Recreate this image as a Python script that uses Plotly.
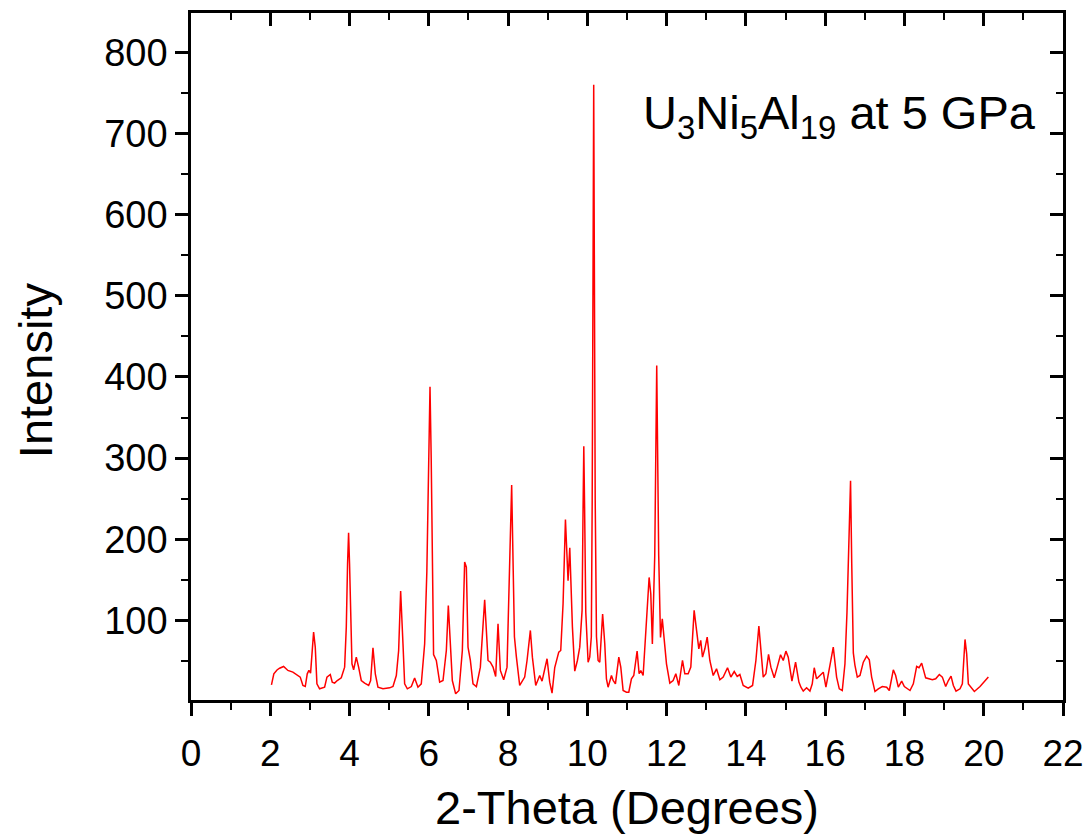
import plotly.graph_objects as go

two_theta = [
    2.03, 2.09, 2.17, 2.235, 2.336, 2.445, 2.571, 2.698, 2.756, 2.824, 2.883, 2.933, 2.975, 3.017, 3.05,
    3.093, 3.135, 3.177, 3.244, 3.371, 3.43, 3.514, 3.564, 3.623, 3.69, 3.791, 3.876, 3.918, 3.95, 3.976,
    4.0, 4.027, 4.061, 4.103, 4.17, 4.229, 4.296, 4.381, 4.482, 4.532, 4.591, 4.65, 4.717, 4.843, 5.012,
    5.096, 5.18, 5.239, 5.289, 5.348, 5.39, 5.458, 5.559, 5.642, 5.726, 5.81, 5.895, 5.95, 6.0, 6.03,
    6.06, 6.09, 6.12, 6.189, 6.273, 6.358, 6.442, 6.492, 6.543, 6.593, 6.677, 6.761, 6.846, 6.904, 6.947,
    6.989, 7.048, 7.115, 7.2, 7.3, 7.409, 7.494, 7.552, 7.62, 7.687, 7.746, 7.805, 7.889, 7.973, 8.03,
    8.09, 8.13, 8.16, 8.21, 8.293, 8.419, 8.478, 8.562, 8.613, 8.697, 8.798, 8.857, 8.924, 8.983, 9.05,
    9.109, 9.177, 9.219, 9.278, 9.328, 9.387, 9.447, 9.513, 9.556, 9.623, 9.682, 9.749, 9.808, 9.867, 9.89,
    9.91, 9.93, 9.96, 10.019, 10.06, 10.10, 10.122, 10.16, 10.198, 10.23, 10.271, 10.313, 10.355, 10.385, 10.439,
    10.481, 10.523, 10.608, 10.65, 10.708, 10.793, 10.843, 10.902, 10.986, 11.045, 11.112, 11.171, 11.255, 11.306, 11.348,
    11.407, 11.466, 11.558, 11.6, 11.64, 11.70, 11.75, 11.80, 11.845, 11.89, 11.937, 11.996, 12.08, 12.164, 12.232,
    12.307, 12.4, 12.459, 12.543, 12.61, 12.694, 12.753, 12.812, 12.86, 12.905, 12.964, 13.023, 13.09, 13.175, 13.259,
    13.343, 13.427, 13.536, 13.62, 13.705, 13.78, 13.848, 13.932, 14.058, 14.168, 14.252, 14.327, 14.378, 14.437, 14.504,
    14.571, 14.63, 14.714, 14.79, 14.874, 14.942, 15.009, 15.068, 15.161, 15.253, 15.337, 15.388, 15.447, 15.531, 15.615,
    15.674, 15.724, 15.783, 15.867, 15.952, 16.019, 16.12, 16.204, 16.288, 16.356, 16.431, 16.499, 16.55, 16.60, 16.64,
    16.67, 16.71, 16.75, 16.81, 16.878, 16.962, 17.046, 17.113, 17.172, 17.256, 17.34, 17.441, 17.551, 17.618, 17.719,
    17.778, 17.845, 17.93, 17.997, 18.14, 18.224, 18.308, 18.367, 18.434, 18.535, 18.603, 18.704, 18.788, 18.88, 18.956,
    19.04, 19.108, 19.175, 19.234, 19.301, 19.402, 19.461, 19.528, 19.57, 19.612, 19.764, 19.907, 20.033, 20.1, 20.117,
]

intensity = [
    20.7, 34.3, 39, 41.2, 43.3, 38.4, 36.3, 32.2, 30.2, 19.9, 18.6, 34.3, 38.4, 35.1, 55,
    85.6, 67.1, 21.9, 15.8, 17.8, 30.2, 33.4, 24, 22.8, 26, 29.3, 42.5, 92, 170, 208,
    170, 92, 46.6, 39.2, 54.8, 42.5, 26, 22.8, 19.9, 26, 66.3, 34.3, 17.8, 15.8, 17,
    18.6, 32.2, 63, 136.2, 71.3, 21.9, 15.8, 18.6, 29, 17.8, 21.9, 71.3, 160, 310, 388,
    300, 140, 58, 50.7, 24, 26, 63, 118.5, 71.3, 26, 9.6, 13.7, 63, 172, 165.8,
    67.1, 50.7, 21.9, 18.6, 42.5, 125.5, 50.7, 48.6, 42.5, 31, 95.9, 38.4, 26.9, 42.5, 150,
    267, 160, 80, 54.8, 19.9, 30.2, 50.7, 87.7, 54.8, 19.9, 32.2, 25.2, 42.5, 52.8, 24,
    10.4, 42, 50.7, 61, 63, 120.6, 224.5, 149, 189.6, 91.8, 37.5, 50.7, 67.1, 112.4, 230,
    314.5, 240, 110, 48.6, 54.8, 80, 248, 760, 248, 80, 50.7, 48.6, 80, 108, 71.3,
    28.1, 17.8, 32.2, 26, 21.9, 54.8, 42.5, 13.7, 11.7, 11.7, 28.1, 32.2, 62.2, 34.3, 38.4,
    32.2, 75.4, 153, 133, 71, 180, 414, 180, 79, 102, 79.5, 46.6, 22.8, 26, 34.3,
    19.9, 50.7, 34.3, 34.3, 42.5, 112.4, 91.8, 65.1, 75.4, 54.8, 65.1, 79.5, 50.7, 32.2, 40.4,
    26.9, 30.2, 41.7, 30.2, 37.1, 31, 33.4, 19.9, 16.6, 19.9, 50.7, 93, 63, 30.2, 34.3,
    58.1, 42.5, 29.3, 42.5, 57.7, 50.7, 62.2, 54.8, 25.2, 48.6, 24, 17.8, 12.9, 17, 12.9,
    21.9, 41.7, 28.1, 32.2, 36.3, 17.8, 42.5, 67.1, 30.2, 15.8, 13.7, 46.6, 110, 185, 272,
    170, 60, 45, 30.2, 32.2, 48.6, 56, 51.5, 30.2, 12.5, 15.8, 18.6, 17.8, 13.7, 39.2,
    32.2, 17.8, 25.2, 18.6, 13.7, 21.9, 43.3, 41.7, 47.4, 29.3, 28.1, 26.9, 28.1, 33.4, 30.2,
    18.6, 26, 31.4, 19.9, 12.9, 15.8, 21.9, 76.6, 58.9, 21.9, 12.5, 18.6, 25.2, 28.1, 30.2,
]

x_range = [0, 22]
y_range = [2, 848.5]
x_ticks = list(range(0, 23, 2))
y_ticks = list(range(100, 801, 100))

FONT = "Arial, Liberation Sans, sans-serif"

fig = go.Figure()
fig.add_trace(go.Scatter(
    x=two_theta, y=intensity, mode="lines",
    line=dict(color="#FF0000", width=1.5),
    showlegend=False, hoverinfo="skip",
))
# empty trace so the mirrored (top/right) axes are drawn
fig.add_trace(go.Scatter(x=[None], y=[None], xaxis="x2", yaxis="y2",
                         showlegend=False, hoverinfo="skip"))

axis_common = dict(showgrid=False, zeroline=False, showline=True,
                   linecolor="black", linewidth=2.5, tickcolor="black",
                   tickwidth=2.5, automargin=False)

fig.update_layout(
    width=1091, height=839,
    margin=dict(l=191, r=28, t=13, b=139),
    paper_bgcolor="white", plot_bgcolor="white",
    font=dict(family=FONT, color="black"),
    xaxis=dict(
        **axis_common, range=x_range, tickmode="array", tickvals=x_ticks,
        ticks="outside", ticklen=13,
        minor=dict(ticks="outside", ticklen=7, dtick=1, tickcolor="black", tickwidth=2),
        tickfont=dict(size=37, family=FONT), ticklabelstandoff=6,
    ),
    yaxis=dict(
        **axis_common, range=y_range, tickmode="array", tickvals=y_ticks,
        ticks="outside", ticklen=13,
        minor=dict(ticks="outside", ticklen=7, dtick=50, tick0=0, tickcolor="black", tickwidth=2),
        tickfont=dict(size=38, family=FONT), ticklabelstandoff=0,
    ),
    xaxis2=dict(
        **axis_common, range=x_range, overlaying="x", side="top",
        tickmode="array", tickvals=x_ticks, ticks="inside", ticklen=13,
        minor=dict(ticks="inside", ticklen=7, dtick=1, tickcolor="black", tickwidth=2),
        showticklabels=False,
    ),
    yaxis2=dict(
        **axis_common, range=y_range, overlaying="y", side="right",
        tickmode="array", tickvals=y_ticks, ticks="inside", ticklen=13,
        minor=dict(ticks="inside", ticklen=7, dtick=50, tick0=0, tickcolor="black", tickwidth=2),
        showticklabels=False,
    ),
    annotations=[
        dict(text="U<sub>3</sub>Ni<sub>5</sub>Al<sub>19</sub> at 5 GPa",
             xref="paper", yref="paper", x=0.516, y=0.850,
             xanchor="left", yanchor="middle", showarrow=False,
             font=dict(size=47, family=FONT, color="black")),
        dict(text="2-Theta (Degrees)",
             xref="paper", yref="paper", x=0.5, y=-0.157,
             xanchor="center", yanchor="middle", showarrow=False,
             font=dict(size=47, family=FONT, color="black")),
        dict(text="Intensity", textangle=-90,
             xref="paper", yref="paper", x=-0.179, y=0.48,
             xanchor="center", yanchor="middle", showarrow=False,
             font=dict(size=47, family=FONT, color="black")),
    ],
)

fig.write_html("out.html")
